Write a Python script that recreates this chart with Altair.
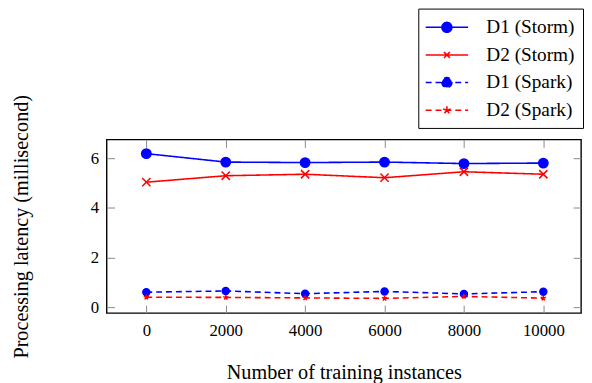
import altair as alt
import pandas as pd

# ---- data ----
instances = [0, 2000, 4000, 6000, 8000, 10000]
d1_storm = [6.19, 5.85, 5.83, 5.85, 5.79, 5.81]
d2_storm = [5.04, 5.30, 5.36, 5.22, 5.46, 5.36]
d1_spark = [0.61, 0.66, 0.55, 0.64, 0.54, 0.63]
d2_spark = [0.41, 0.40, 0.38, 0.36, 0.44, 0.37]

series_names = ["D1 (Storm)", "D2 (Storm)", "D1 (Spark)", "D2 (Spark)"]
series_values = [d1_storm, d2_storm, d1_spark, d2_spark]
series_colors = ["#0000ff", "#ff0000", "#0000ff", "#ff0000"]
series_dash = [[1, 0], [1, 0], [6, 4], [6, 4]]

x_ticks = [0, 2000, 4000, 6000, 8000, 10000]
y_ticks = [0, 2, 4, 6]

rows = []
for name, vals in zip(series_names, series_values):
    for x, v in zip(instances, vals):
        rows.append({"x": x, "y": v, "series": name})
df = pd.DataFrame(rows)

FONT = "Liberation Serif"
T = 8  # inward tick length

# marker shapes for the plot (custom paths, unit square)
circle = "circle"
xmark = "M-1,-1L1,1M-1,1L1,-1"
star = "M0,0L0,-1M0,0L-0.951,-0.309M0,0L-0.588,0.809M0,0L0.588,0.809M0,0L0.951,-0.309"
plot_shapes = [circle, xmark, circle, star]

# legend symbols: line + marker (symbol size 400 -> 10 px per unit)
line_part = "M-2.15,0L2.15,0"
circ_part = "M0.5,0A0.5,0.5,0,1,1,-0.5,0A0.5,0.5,0,1,1,0.5,0Z"
x_part = "M-0.3,-0.3L0.3,0.3M-0.3,0.3L0.3,-0.3"
star_part = "M0,0L0,-0.4M0,0L-0.38,-0.12M0,0L-0.24,0.32M0,0L0.24,0.32M0,0L0.38,-0.12"
legend_shapes = [line_part + circ_part, line_part + x_part,
                 line_part + circ_part, line_part + star_part]

xscale = alt.Scale(domain=[-1000, 10950], nice=False, zero=False)
yscale = alt.Scale(domain=[-0.23, 6.76], nice=False, zero=False)

color_scale = alt.Scale(domain=series_names, range=series_colors)
dash_scale = alt.Scale(domain=series_names, range=series_dash)

axis_common = dict(
    domain=False, grid=False, tickSize=T, offset=-T, tickColor="#888888",
    tickWidth=1, labelFont=FONT, labelFontSize=17, labelColor="black",
    titleFont=FONT, titleFontSize=20.5, titleFontWeight="normal", titleColor="black",
)

base = alt.Chart(df)

lines = base.mark_line(strokeWidth=1.6).encode(
    x=alt.X("x:Q", scale=xscale,
            axis=alt.Axis(orient="bottom", values=x_ticks, format="d",
                          title="Number of training instances", labelPadding=10,
                          titleBaseline="alphabetic", titleY=74, **axis_common)),
    y=alt.Y("y:Q", scale=yscale,
            axis=alt.Axis(orient="left", values=y_ticks, format="d",
                          title="Processing latency (millisecond)", labelPadding=8,
                          titleBaseline="alphabetic", titleX=-88, **axis_common)),
    stroke=alt.Stroke("series:N", scale=color_scale, legend=None),
    strokeDash=alt.StrokeDash("series:N", scale=dash_scale, legend=None),
    detail="series:N",
)

points = base.mark_point(filled=True, strokeWidth=1.5, opacity=1).encode(
    x=alt.X("x:Q", scale=xscale,
            axis=alt.Axis(orient="top", values=x_ticks, labels=False, title=None,
                          **axis_common)),
    y=alt.Y("y:Q", scale=yscale,
            axis=alt.Axis(orient="right", values=y_ticks, labels=False, title=None,
                          **axis_common)),
    fill=alt.Fill("series:N", scale=color_scale, legend=None),
    stroke=alt.Stroke("series:N", scale=color_scale, legend=None),
    shape=alt.Shape("series:N", scale=alt.Scale(domain=series_names, range=plot_shapes),
                    legend=None),
    size=alt.Size("series:N",
                  scale=alt.Scale(domain=series_names, range=[90, 30, 90, 30]),
                  legend=None),
)

# legend-only layer: no rows drawn, legend built from the explicit scale domain
legend_layer = base.transform_filter("datum.x < -5000").mark_point(
    filled=True, size=400, strokeWidth=1.6, opacity=1
).encode(
    x=alt.X("x:Q", scale=xscale, axis=None),
    y=alt.Y("y:Q", scale=yscale, axis=None),
    fill=alt.Fill("series:N", scale=color_scale,
                  legend=alt.Legend(title=None, orient="none", legendX=316, legendY=-132.7,
                                    strokeColor="black", fillColor="white", padding=8,
                                    labelFont=FONT, labelFontSize=19.5, labelColor="black",
                                    symbolSize=400, symbolOffset=10, labelOffset=29,
                                    rowPadding=7, symbolStrokeWidth=1.6,
                                    symbolOpacity=1)),
    stroke=alt.Stroke("series:N", scale=color_scale),
    shape=alt.Shape("series:N", scale=alt.Scale(domain=series_names, range=legend_shapes)),
    strokeDash=alt.StrokeDash("series:N", scale=dash_scale),
)

chart = alt.layer(lines, points, legend_layer).resolve_scale(
    x="shared", y="shared", fill="independent", stroke="independent",
    shape="independent", strokeDash="independent", size="independent",
).resolve_axis(x="independent", y="independent").properties(
    width=481, height=176,
    autosize=alt.AutoSizeParams(type="none"),
    padding={"left": 100, "top": 130.7, "right": 3, "bottom": 68},
).configure(background="white", font=FONT).configure_view(
    stroke="black", strokeWidth=1.4
).configure_legend(labelFont=FONT).configure_axis(labelFont=FONT, titleFont=FONT)

chart.save("out.html", embed_options={"renderer": "svg", "actions": False})
